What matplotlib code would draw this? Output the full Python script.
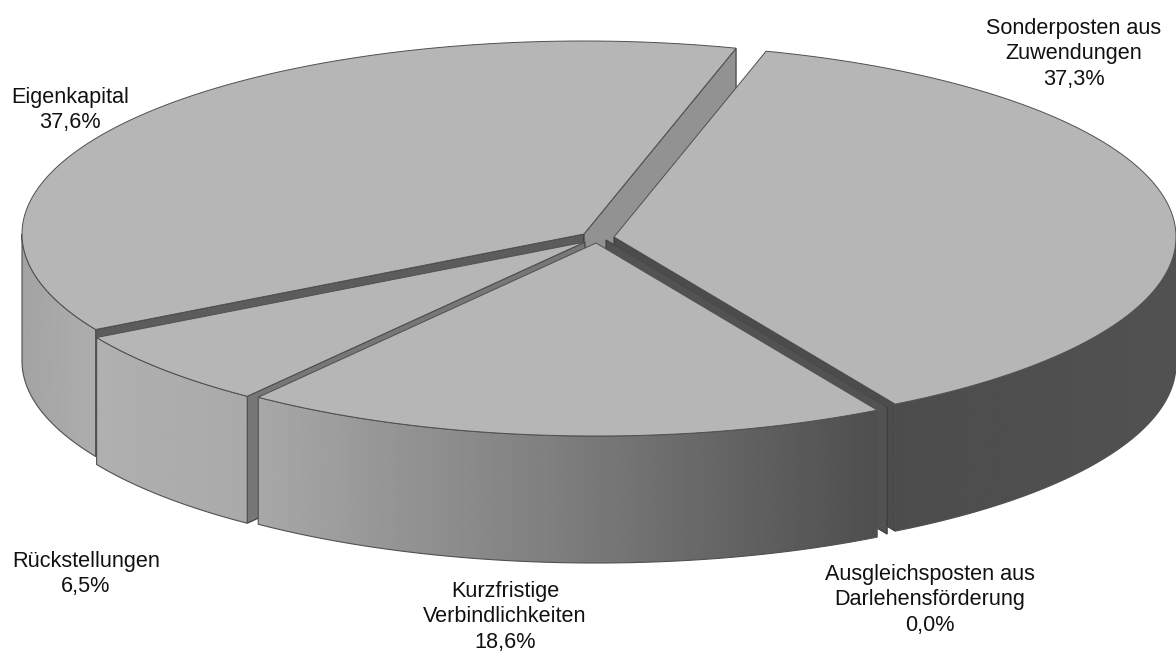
import numpy as np
import matplotlib
matplotlib.use("Agg")
import matplotlib.pyplot as plt
from matplotlib.patches import Polygon

plt.rcParams['font.family'] = ['Liberation Sans', 'DejaVu Sans']

categories = ["Sonderposten aus\nZuwendungen", "Ausgleichsposten aus\nDarlehensförderung",
              "Kurzfristige\nVerbindlichkeiten", "Rückstellungen", "Eigenkapital"]
values = [37.3, 0.0, 18.6, 6.5, 37.6]

# layout
START = 15.7
A, B, DEPTH = 562, 193, 127
apex = [(614, 237), (606, 240), (596, 243), (585, 242), (584, 234)]
label_pos = [(1074, 54), (930, 600), (505, 617), (86, 574), (70, 110)]
wall_start = [None, None, None, '#777777', '#5c5c5c']
wall_end = ['#4c4c4c', '#525252', None, None, '#929292']
grad = [[(895, .30), (1176, .32)], [(877, .30), (895, .30)],
        [(259, .66), (400, .58), (568, .49), (740, .385), (877, .31)],
        [(97, .69), (247, .665)], [(22, .64), (96, .68)]]
TOP = '#b6b6b6'
EDGE = '#505050'

# slice angles
cum = np.concatenate([[0], np.cumsum(values)]) / sum(values) * 360 + START
slices = [(cum[i], cum[i + 1]) for i in range(len(values))]

fig = plt.figure(figsize=(11.76, 6.52), dpi=100)
ax = fig.add_axes([0, 0, 1, 1])


def pt(c, t):
    r = np.radians(t)
    return np.column_stack([c[0] + A * np.sin(r), c[1] - B * np.cos(r)])


z = 1
for idx in [4, 0, 3, 1, 2]:
    c = apex[idx]
    t0, t1 = slices[idx]
    # radial walls
    for t, col in ((t0, wall_start[idx]), (t1, wall_end[idx])):
        if col is None:
            continue
        p = pt(c, t)[0]
        ax.add_patch(Polygon([c, p, (p[0], p[1] + DEPTH), (c[0], c[1] + DEPTH)],
                             closed=True, fc=col, ec='#3a3a3a', lw=0.8, zorder=z))
        z += 1
    # outer wall (only the part on the viewer's side)
    ranges = []
    for off in (0, 360):
        a0, a1 = max(t0, 90 + off), min(t1, 270 + off)
        if a1 > a0:
            ranges.append((a0, a1))
    for a0, a1 in ranges:
        arc = pt(c, np.linspace(a0, a1, 200))
        poly = np.vstack([arc, (arc + [0, DEPTH])[::-1]])
        patch = Polygon(poly, closed=True, fc='none', ec=EDGE, lw=0.8, zorder=z + 1)
        ax.add_patch(patch)
        xs = np.linspace(poly[:, 0].min() - 2, poly[:, 0].max() + 2, 400)
        g = np.interp(xs, [s[0] for s in grad[idx]], [s[1] for s in grad[idx]])
        im = ax.imshow(g[None, :], cmap='gray', vmin=0, vmax=1, aspect='auto',
                       extent=(xs[0], xs[-1], poly[:, 1].max() + 2, poly[:, 1].min() - 2),
                       zorder=z, interpolation='bilinear')
        im.set_clip_path(patch)
        z += 2
    # top surface
    arc = pt(c, np.linspace(t0, t1, 300))
    ax.add_patch(Polygon(np.vstack([[c], arc]), closed=True, fc=TOP, ec=EDGE,
                         lw=0.7, zorder=z, joinstyle='miter'))
    z += 1

for (x, y), cat, v in zip(label_pos, categories, values):
    ax.text(x, y, f"{cat}\n{v:.1f}%".replace('.', ','), ha='center', va='center',
            fontsize=15.6, color='#111111', linespacing=1.29, zorder=z)

ax.set_xlim(0, 1176)
ax.set_ylim(652, 0)
ax.axis('off')
fig.savefig('out.png', dpi=100)
